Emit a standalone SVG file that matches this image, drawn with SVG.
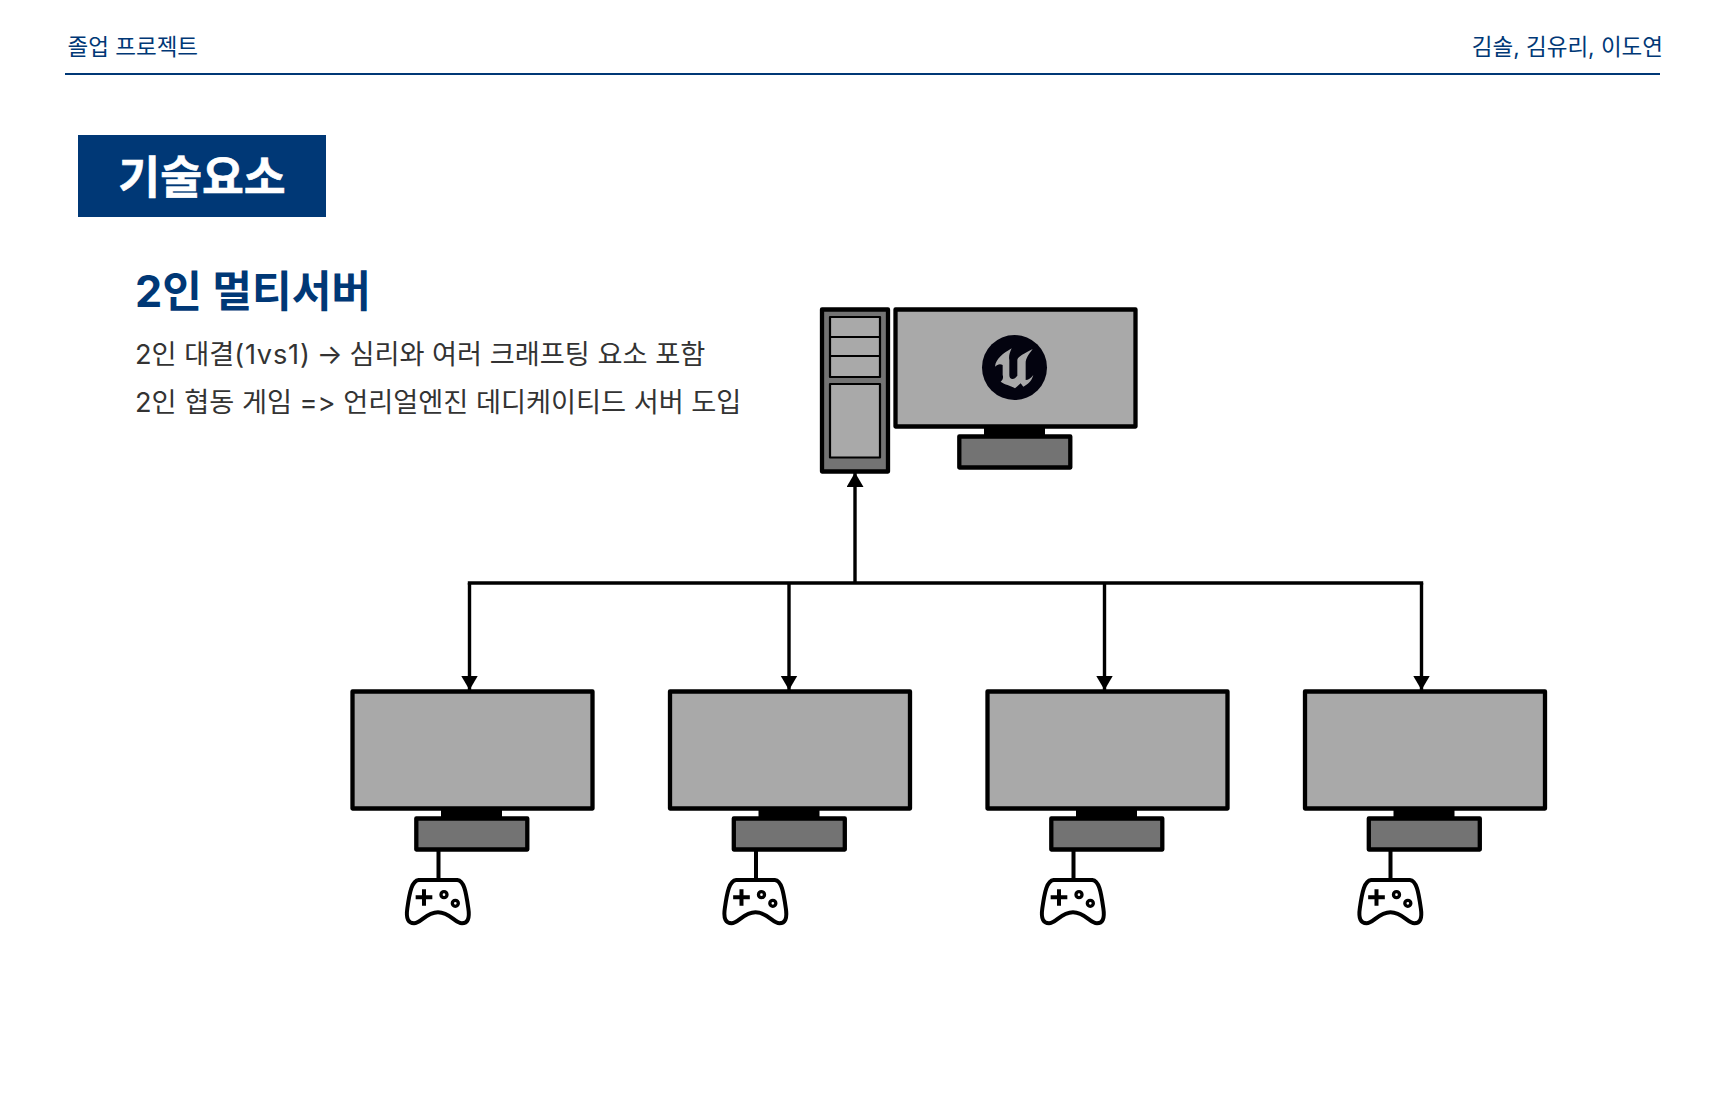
<svg xmlns="http://www.w3.org/2000/svg" width="1728" height="1117" viewBox="0 0 1728 1117">
<style>
text{font-family:"Inter","Noto Sans CJK KR",sans-serif}
.hdr{font-size:22.5px;fill:#003876}
.body{font-size:27.2px;fill:#333333}
.scr{fill:#a9a9a9;stroke:#000;stroke-width:4.300;stroke-linejoin:round}
.dk{fill:#737373;stroke:#000;stroke-width:4.300;stroke-linejoin:round}
.thin{fill:#a9a9a9;stroke:#000;stroke-width:2.200;stroke-linejoin:round}
.wire{fill:none;stroke:#000;stroke-width:3.400}
</style>
<defs>
<marker id="ah" markerUnits="userSpaceOnUse" markerWidth="18" markerHeight="18" refX="14.500" refY="8.500" orient="auto"><path d="M0,0 L14.500,8.500 L0,17 Z" fill="#000"/></marker>
<g id="mon">
<rect x="984" y="426" width="61" height="10" fill="#000"/>
<rect class="scr" x="895.500" y="309.500" width="240" height="117"/>
<rect class="dk" x="959.300" y="436.500" width="111" height="31"/>
</g>
<g id="pad">
<path d="M236,300 H352 C372,302 378,335 385,385 C390,418 382,430 366,430 C345,430 330,397 294,397 C258,397 243,430 222,430 C206,430 197,418 202,385 C209,335 216,302 236,300 Z" fill="#fff" stroke="#000" stroke-width="12" stroke-linejoin="round"/>
<path d="M227,352 H277 M252,328 V377" fill="none" stroke="#000" stroke-width="12"/>
<circle cx="312" cy="344" r="9" fill="none" stroke="#000" stroke-width="10"/>
<circle cx="346" cy="370" r="9" fill="none" stroke="#000" stroke-width="10"/>
</g>
</defs>
<g id="header">
<text class="hdr" x="67.500" y="54.500">졸업 프로젝트</text>
<text class="hdr" x="1663" y="54.500" text-anchor="end">김솔, 김유리, 이도연</text>
<rect x="65" y="73" width="1595" height="2" fill="#003876"/>
</g>
<g id="title">
<rect x="78" y="135" width="248" height="82" fill="#003876"/>
<text x="202" y="193.500" text-anchor="middle" font-size="45.500" font-weight="700" fill="#fff" stroke="#fff" stroke-width=".6">기술요소</text>
</g>
<g id="intro">
<text x="135" y="307" font-size="43.200" font-weight="700" fill="#003876">2인 멀티서버</text>
<text class="body" x="135" y="364">2인 대결<tspan letter-spacing=".8">(1vs1)</tspan> <tspan dx="-1.500">→</tspan> <tspan dx="-1">심리와 여러 크래프팅 요소 포함</tspan></text>
<text class="body" x="135" y="411.500">2인 협동 게임 =&gt; 언리얼엔진 데디케이티드 서버 도입</text>
</g>
<g id="connectors">
<path class="wire" d="M855,583 V472.500" marker-end="url(#ah)"/>
<path class="wire" d="M467.800,583 H1423.200"/>
<path class="wire" d="M469.500,583 V690" marker-end="url(#ah)"/>
<path class="wire" d="M789,583 V690" marker-end="url(#ah)"/>
<path class="wire" d="M1104.500,583 V690" marker-end="url(#ah)"/>
<path class="wire" d="M1421.500,583 V690" marker-end="url(#ah)"/>
<path class="wire" d="M438.500,851 V880 M756,851 V880 M1073.500,851 V880 M1390.500,851 V880" style="stroke-width:4"/>
</g>
<g id="server">
<rect class="dk" x="822" y="309.500" width="66" height="162"/>
<rect class="thin" x="830" y="317" width="50" height="60"/>
<path d="M830,337 H880 M830,356 H880" stroke="#000" stroke-width="2.200" fill="none"/>
<rect class="thin" x="830" y="384" width="50" height="73.500"/>
<use href="#mon"/>
<circle cx="1014.500" cy="367.500" r="32.500" fill="#03030f"/>
<path transform="translate(960,325) scale(.3333)" d="M105,125 C108,100 130,85 155,70 C148,85 146,95 148,105 L148,150 C148,160 155,165 165,160 L172,152 L172,105 C172,95 195,85 218,72 C205,90 197,100 197,115 L197,165 C205,165 212,160 220,150 C215,170 200,180 190,185 L182,175 L165,190 C150,180 135,180 122,170 C130,165 130,155 128,150 L128,120 C120,115 112,118 105,125 Z" fill="#a9a9a9"/>
</g>
<g id="client-1"><use href="#mon" transform="translate(-543,382)"/><use href="#pad" transform="translate(340,780) scale(.3333)"/></g>
<g id="client-2"><use href="#mon" transform="translate(-225.500,382)"/><use href="#pad" transform="translate(657.500,780) scale(.3333)"/></g>
<g id="client-3"><use href="#mon" transform="translate(92,382)"/><use href="#pad" transform="translate(975,780) scale(.3333)"/></g>
<g id="client-4"><use href="#mon" transform="translate(409.500,382)"/><use href="#pad" transform="translate(1292.500,780) scale(.3333)"/></g>
</svg>
